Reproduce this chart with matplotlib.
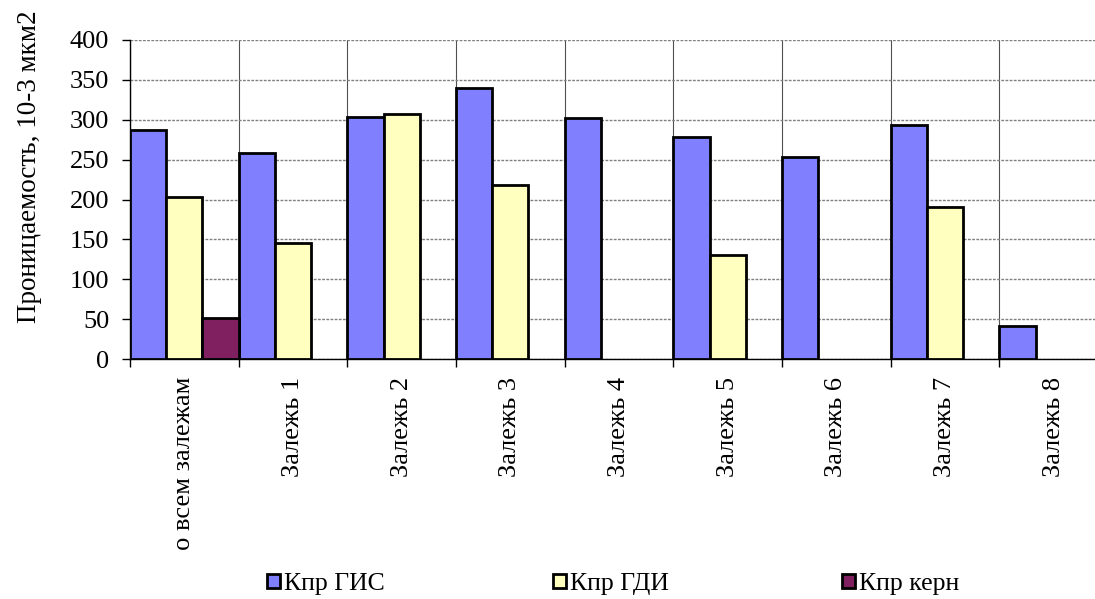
import numpy as np
import matplotlib.pyplot as plt
from matplotlib.transforms import Bbox

plt.rcParams['font.family'] = ['Liberation Serif', 'DejaVu Serif']

categories = ['По всем залежам', 'Залежь 1', 'Залежь 2', 'Залежь 3', 'Залежь 4',
              'Залежь 5', 'Залежь 6', 'Залежь 7', 'Залежь 8']
k_gis = [287, 258, 303, 340, 302, 278, 253, 293, 41]
k_gdi = [203, 145, 307, 218, 0, 130, 0, 190, 0]
k_kern = [51, 0, 0, 0, 0, 0, 0, 0, 0]

series = [('Кпр ГИС', k_gis, '#8080ff'),
          ('Кпр ГДИ', k_gdi, '#ffffc0'),
          ('Кпр керн', k_kern, '#802060')]

fig = plt.figure(figsize=(10.95, 5.99), dpi=100)
ax = fig.add_axes([130 / 1095, 1 - 359 / 599, 978 / 1095, 319 / 599])

x = np.arange(len(categories))
w = 1 / 3
bars = []
for i, (name, vals, color) in enumerate(series):
    vals = np.array(vals, dtype=float)
    h = np.where(vals > 0, vals, np.nan)
    bars.append(ax.bar(x - 0.5 + w * (i + 0.5), h, width=w, color=color, edgecolor='black',
                       linewidth=2.0, label=name, zorder=3))

ax.set_xlim(-0.5, len(categories) - 0.5)
ax.set_ylim(0, 400)
ax.set_yticks(range(0, 401, 50))

# category labels in the middle, tick marks and vertical grid on the boundaries
ax.set_xticks(x)
ax.set_xticklabels(categories, rotation=90, va='top', ha='center')
ax.set_xticks(np.arange(-0.5, len(categories)), minor=True)
ax.tick_params(axis='x', which='major', length=0, pad=13, labelsize=19)
ax.tick_params(axis='x', which='minor', length=6, width=1, direction='out')
ax.tick_params(axis='y', length=6, width=1, direction='out', pad=9, labelsize=19)

ax.grid(axis='y', which='major', color='#808080', linestyle=(0, (2, 1)), linewidth=1.0, zorder=0)
ax.grid(axis='x', which='minor', color='#505050', linestyle='-', linewidth=0.8, zorder=0)
ax.set_axisbelow(True)

for s in ['top', 'right']:
    ax.spines[s].set_visible(False)
for s in ['left', 'bottom']:
    ax.spines[s].set_linewidth(1.0)

fig.text(30 / 1095, 1 - 167 / 599, 'Проницаемость, 10-3 мкм2', rotation=90,
         ha='center', va='center', fontsize=19.5)

# one legend entry per slot along the bottom
for b, (name, _, _), x0 in zip(bars, series, [267, 553, 842]):
    fig.legend([b], [name], loc='center left', bbox_to_anchor=(x0 / 1095, 1 - 584 / 599),
               frameon=False, fontsize=18.5, borderpad=0, borderaxespad=0,
               handlelength=0.5, handleheight=0.5, handletextpad=0.15)

# long first label is cut off above the legend
fig.canvas.draw()
clip = Bbox.from_extents(0, 599 - 551, 1095, 599)
for lbl in ax.get_xticklabels():
    lbl.set_clip_box(clip)
    lbl.set_clip_on(True)

fig.savefig('out.png', dpi=100)
